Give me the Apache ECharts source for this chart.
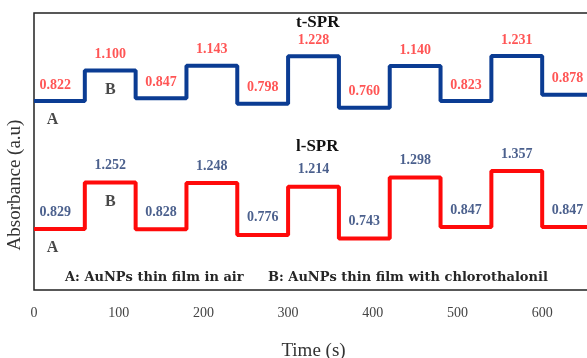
<!DOCTYPE html>
<html>
<head>
<meta charset="utf-8">
<script src="https://cdn.jsdelivr.net/npm/echarts@6/dist/echarts.min.js"></script>
<style>
  html, body { margin: 0; padding: 0; background: #fff; }
</style>
</head>
<body>
<div id="chart" style="width: 587px; height: 358px"></div>
<script>
// time (s) at which each 60 s segment starts
const stepTimes = [0, 60, 120, 180, 240, 300, 360, 420, 480, 540, 600];
const endTime = 660;
// absorbance level of each segment (A / B alternating)
const tSPR = [0.822, 1.100, 0.847, 1.143, 0.798, 1.228, 0.760, 1.140, 0.823, 1.231, 0.878];
const lSPR = [0.829, 1.252, 0.828, 1.248, 0.776, 1.214, 0.743, 1.298, 0.847, 1.357, 0.847];
const xTicks = [0, 100, 200, 300, 400, 500, 600];
const stateNames = ["A", "B"];

const serif = "Liberation Serif";

function stepData(levels) {
  const d = levels.map((v, i) => [stepTimes[i], v]);
  d.push([endTime, levels[levels.length - 1]]);
  return d;
}
function labelData(levels) {
  // first segment label sits a little left of the segment middle
  return levels.map((v, i) => [stepTimes[i] + (i ? 30 : 25), v]);
}
function stateData(levels) {
  return stateNames.map((n, i) => ({ name: n, value: [stepTimes[i] + (i ? 30 : 22), levels[i]] }));
}

const myChart = echarts.init(document.getElementById("chart"));
const option = {
  animation: false,
  grid: {
    left: 34,
    top: 13,
    width: 559,
    height: 277,
    outerBoundsMode: "none",
    containLabel: false,
    show: true,
    borderColor: "#222",
    borderWidth: 1.5,
  },
  xAxis: {
    type: "value",
    min: 0,
    max: endTime,
    interval: 100,
    axisLine: { show: false },
    axisTick: { show: false },
    splitLine: { show: false },
    axisLabel: {
      margin: 16,
      fontFamily: serif,
      fontSize: 14,
      color: "#444",
      formatter: (v) => (xTicks.includes(v) ? String(v) : ""),
    },
    name: "Time (s)",
    nameLocation: "middle",
    nameGap: 52,
    nameTextStyle: { fontFamily: serif, fontSize: 19, color: "#333" },
  },
  yAxis: [
    {
      type: "value",
      min: -0.896,
      max: 1.622,
      axisLine: { show: false },
      axisTick: { show: false },
      axisLabel: { show: false },
      splitLine: { show: false },
    },
    {
      type: "value",
      min: 0.275,
      max: 2.793,
      show: false,
    },
  ],
  graphic: [
    {
      type: "text",
      x: 15,
      y: 185,
      rotation: Math.PI / 2,
      style: { text: "Absorbance (a.u)", font: "19px " + serif, fill: "#333", align: "center", verticalAlign: "middle" },
    },
    { type: "text", left: 296, top: 14, style: { text: "t-SPR", font: "bold 17px " + serif, fill: "#111" } },
    { type: "text", left: 296, top: 138, style: { text: "l-SPR", font: "bold 17px " + serif, fill: "#111" } },
    { type: "text", left: 65, top: 271, style: { text: "A: AuNPs thin film in air", font: "bold 13px DejaVu Serif", fill: "#262626" } },
    { type: "text", left: 268, top: 271, style: { text: "B: AuNPs thin film with chlorothalonil", font: "bold 13px DejaVu Serif", fill: "#262626" } },
  ],
  series: [
    {
      name: "t-SPR",
      type: "line",
      step: "end",
      yAxisIndex: 0,
      symbol: "none",
      data: stepData(tSPR),
      lineStyle: { color: "#0b3c93", width: 4 },
    },
    {
      name: "l-SPR",
      type: "line",
      step: "end",
      yAxisIndex: 1,
      symbol: "none",
      data: stepData(lSPR),
      lineStyle: { color: "#ff0a0a", width: 4 },
    },
    {
      type: "scatter",
      yAxisIndex: 0,
      symbolSize: 0,
      data: labelData(tSPR),
      label: {
        show: true,
        position: "top",
        distance: 9,
        formatter: (p) => p.value[1].toFixed(3),
        fontFamily: serif,
        fontWeight: "bold",
        fontSize: 14,
        color: "#ff2a2a",
      },
    },
    {
      type: "scatter",
      yAxisIndex: 1,
      symbolSize: 0,
      data: labelData(lSPR),
      label: {
        show: true,
        position: "top",
        distance: 10,
        formatter: (p) => p.value[1].toFixed(3),
        fontFamily: serif,
        fontWeight: "bold",
        fontSize: 14,
        color: "#1e3870",
      },
    },
    {
      type: "scatter",
      yAxisIndex: 0,
      symbolSize: 0,
      data: stateData(tSPR),
      label: {
        show: true,
        position: "bottom",
        distance: 11,
        formatter: (p) => p.name,
        fontFamily: serif,
        fontWeight: "bold",
        fontSize: 16,
        color: "#1a1a1a",
      },
    },
    {
      type: "scatter",
      yAxisIndex: 1,
      symbolSize: 0,
      data: stateData(lSPR),
      label: {
        show: true,
        position: "bottom",
        distance: 11,
        formatter: (p) => p.name,
        fontFamily: serif,
        fontWeight: "bold",
        fontSize: 16,
        color: "#1a1a1a",
      },
    },
  ],
};
myChart.setOption(option);
window.addEventListener("resize", function () {
  myChart.resize();
});
</script>
</body>
</html>
